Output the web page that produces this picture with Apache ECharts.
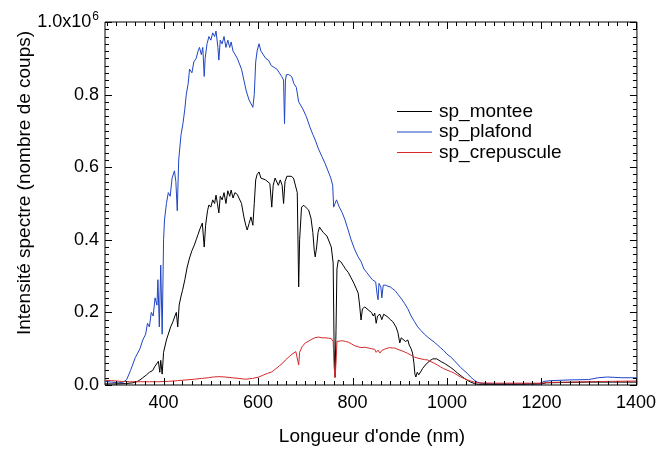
<!DOCTYPE html>
<html>
<head>
<meta charset="utf-8">
<script src="https://cdn.jsdelivr.net/npm/echarts@6/dist/echarts.min.js"></script>
<style>
html,body{margin:0;padding:0;background:#fff;}
#c{width:659px;height:450px;}
</style>
</head>
<body>
<div id="c"></div>
<script>
// ---- Data (intensity in units of 10^6 counts, wavelength in nm) ----
const seriesNames = ['sp_montee', 'sp_plafond', 'sp_crepuscule'];
const xTickValues = [400, 600, 800, 1000, 1200, 1400];
const yTickValues = [0, 0.2, 0.4, 0.6, 0.8, 1.0];
const yTickLabels = ['0.0', '0.2', '0.4', '0.6', '0.8', '1.0x10'];

const plafondNm = [276,290,305,315,322,330,340,350,356,362,366,370,374,378,382,386,388,391,394,397,400,402,406,410,414,418,423,426,429,432,437,441,445,448,452,455,460,464,469,473,476,480,483,486,488,492,496,500,504,508,511,515,517,520,524,528,532,536,540,543,547,551,556,560,565,570,575,581,585,589,592,595,598,602,606,610,616,622,628,634,640,645,650,654,656,658,660,665,671,676,681,686,690,695,702,710,716,721,728,735,742,748,754,758,760,763,766,772,778,784,790,797,804,811,818,824,830,836,842,849,852,854,856,860,862,865,870,875,880,885,890,896,902,910,917,924,931,938,945,952,959,966,973,980,986,993,1000,1008,1015,1022,1029,1036,1043,1050,1057,1064,1075,1100,1150,1195,1205,1220,1260,1300,1320,1340,1370,1402];
const plafondVal = [0.010,0.008,0.006,0.008,0.015,0.040,0.075,0.100,0.124,0.140,0.170,0.160,0.200,0.190,0.240,0.220,0.290,0.160,0.330,0.140,0.400,0.455,0.500,0.530,0.520,0.570,0.590,0.560,0.480,0.620,0.690,0.720,0.760,0.800,0.830,0.870,0.860,0.890,0.900,0.920,0.930,0.910,0.930,0.850,0.900,0.940,0.960,0.950,0.970,0.960,0.975,0.930,0.895,0.950,0.940,0.960,0.930,0.950,0.930,0.945,0.920,0.925,0.900,0.905,0.870,0.840,0.810,0.785,0.780,0.765,0.800,0.890,0.920,0.940,0.920,0.915,0.900,0.895,0.880,0.875,0.870,0.860,0.850,0.840,0.720,0.840,0.855,0.855,0.850,0.830,0.820,0.780,0.780,0.760,0.740,0.710,0.690,0.675,0.650,0.630,0.610,0.590,0.570,0.550,0.490,0.500,0.510,0.490,0.475,0.455,0.430,0.400,0.375,0.355,0.340,0.320,0.310,0.300,0.290,0.284,0.250,0.235,0.280,0.270,0.240,0.275,0.275,0.272,0.270,0.265,0.260,0.250,0.240,0.225,0.210,0.190,0.175,0.160,0.150,0.140,0.132,0.125,0.118,0.110,0.103,0.095,0.085,0.077,0.068,0.058,0.048,0.040,0.032,0.022,0.014,0.008,0.004,0.003,0.003,0.003,0.010,0.012,0.014,0.015,0.020,0.022,0.020,0.020];

const monteeNm = [276,300,320,335,345,350,356,364,370,377,381,385,389,392,394,397,400,406,410,415,420,424,427,430,433,437,440,445,450,455,460,465,469,473,477,482,486,489,493,496,500,504,508,511,514,517,520,524,528,532,536,540,543,547,551,556,560,565,570,574,577,581,585,589,592,595,598,602,606,610,616,620,625,629,632,636,639,643,647,651,654,657,661,665,670,675,679,683,686,688,692,697,702,707,712,716,719,721,724,727,730,734,738,742,746,750,755,759,761,763,765,767,770,775,780,785,791,797,803,808,812,815,818,821,826,830,835,840,844,847,850,853,858,862,866,870,875,880,885,889,892,896,900,903,907,912,917,920,924,927,930,932,934,937,940,944,948,952,956,960,965,970,973,978,983,988,994,1000,1008,1015,1022,1030,1037,1043,1050,1058,1065,1100,1150,1200,1210,1250,1300,1350,1402];
const monteeVal = [0.003,0.003,0.004,0.006,0.010,0.014,0.020,0.028,0.035,0.040,0.050,0.050,0.065,0.035,0.068,0.030,0.090,0.124,0.140,0.160,0.175,0.190,0.200,0.160,0.220,0.245,0.260,0.290,0.325,0.350,0.370,0.385,0.400,0.415,0.430,0.446,0.380,0.440,0.480,0.496,0.490,0.510,0.500,0.523,0.500,0.474,0.520,0.510,0.530,0.500,0.535,0.520,0.537,0.515,0.530,0.525,0.529,0.500,0.463,0.440,0.427,0.445,0.463,0.440,0.500,0.565,0.580,0.587,0.570,0.575,0.565,0.570,0.555,0.490,0.550,0.570,0.570,0.550,0.565,0.550,0.500,0.560,0.575,0.578,0.575,0.570,0.565,0.530,0.270,0.400,0.490,0.495,0.488,0.482,0.460,0.420,0.370,0.353,0.380,0.420,0.435,0.432,0.420,0.415,0.410,0.405,0.380,0.336,0.100,0.022,0.150,0.320,0.344,0.340,0.330,0.320,0.310,0.295,0.280,0.265,0.253,0.220,0.179,0.210,0.215,0.210,0.205,0.200,0.190,0.198,0.170,0.190,0.195,0.180,0.195,0.190,0.187,0.180,0.175,0.170,0.160,0.145,0.116,0.130,0.125,0.120,0.124,0.110,0.100,0.088,0.060,0.030,0.022,0.035,0.028,0.036,0.045,0.050,0.058,0.062,0.068,0.072,0.074,0.072,0.068,0.064,0.060,0.055,0.048,0.041,0.033,0.025,0.018,0.013,0.008,0.004,0.002,0.002,0.002,0.003,0.006,0.007,0.008,0.008,0.008];

const crepNm = [276,290,310,330,350,370,390,410,430,448,465,480,495,505,517,530,545,560,574,588,602,612,620,629,638,645,652,658,666,672,680,684,686,688,693,700,706,712,720,728,735,742,749,755,759,761,763,765,767,770,778,785,791,798,805,812,820,826,833,840,847,850,854,858,862,870,878,884,889,896,903,910,917,924,931,938,945,952,959,966,973,980,986,993,1000,1008,1015,1022,1029,1036,1043,1050,1058,1065,1100,1150,1200,1210,1260,1300,1350,1402];
const crepVal = [0.013,0.012,0.010,0.009,0.009,0.009,0.009,0.010,0.012,0.014,0.016,0.018,0.020,0.022,0.023,0.022,0.020,0.018,0.016,0.018,0.022,0.028,0.032,0.036,0.045,0.053,0.060,0.069,0.078,0.085,0.092,0.095,0.055,0.090,0.105,0.116,0.120,0.125,0.130,0.132,0.130,0.130,0.129,0.128,0.120,0.050,0.020,0.060,0.120,0.124,0.122,0.120,0.118,0.113,0.108,0.105,0.103,0.104,0.102,0.100,0.098,0.090,0.096,0.088,0.095,0.100,0.103,0.102,0.102,0.098,0.095,0.091,0.087,0.082,0.077,0.074,0.072,0.070,0.069,0.064,0.060,0.055,0.050,0.045,0.041,0.037,0.033,0.027,0.022,0.018,0.014,0.011,0.008,0.006,0.005,0.005,0.005,0.007,0.008,0.009,0.010,0.011];

const seriesColors = ['#000000', '#1f45c4', '#d42a2a'];

// ---- Build chart ----
const XMIN = 276, XMAX = 1402, YMIN = 0, YMAX = 1;
function zip(a, b) { return a.map(function (v, i) { return [v, b[i]]; }); }
const FONT = '"Liberation Sans", Arial, Helvetica, sans-serif';

// tick specs for the frame (kind: 0 x-major, 1 x-minor, 2 y-major, 3 y-minor)
const tickData = [];
for (let v = 280; v <= 1400; v += 20) tickData.push([v, YMIN, (v % 200 === 0) ? 0 : 1]);
for (let i = 0; i <= 50; i++) tickData.push([XMIN, i / 50, (i % 10 === 0) ? 2 : 3]);

function renderTick(params, api) {
  const kind = api.value(2);
  const len = (kind === 0 || kind === 2) ? 7 : 4;
  const st = { stroke: '#000', lineWidth: 1 };
  if (kind < 2) {
    const x = api.value(0);
    const b = api.coord([x, YMIN]), t = api.coord([x, YMAX]);
    const px = Math.round(b[0]) + 0.5;
    return { type: 'group', children: [
      { type: 'line', shape: { x1: px, y1: b[1], x2: px, y2: b[1] - len }, style: st },
      { type: 'line', shape: { x1: px, y1: t[1], x2: px, y2: t[1] + len }, style: st }
    ] };
  } else {
    const y = api.value(1);
    const l = api.coord([XMIN, y]), r = api.coord([XMAX, y]);
    const py = Math.round(l[1]) + 0.5;
    return { type: 'group', children: [
      { type: 'line', shape: { x1: l[0], y1: py, x2: l[0] + len, y2: py }, style: st },
      { type: 'line', shape: { x1: r[0], y1: py, x2: r[0] - len, y2: py }, style: st }
    ] };
  }
}

const chart = echarts.init(document.getElementById('c'));
chart.setOption({
  animation: false,
  backgroundColor: '#fff',
  grid: { left: 105, right: 18, top: 22, bottom: 65, show: true, borderColor: '#000', borderWidth: 1, backgroundColor: 'transparent' },
  xAxis: {
    type: 'value', min: XMIN, max: XMAX,
    axisLine: { show: false }, axisTick: { show: false }, splitLine: { show: false },
    axisLabel: { show: true, margin: 9, customValues: xTickValues, formatter: function (v) { return String(Math.round(v)); }, fontFamily: FONT, fontSize: 18, color: '#000' }
  },
  yAxis: {
    type: 'value', min: YMIN, max: YMAX,
    axisLine: { show: false }, axisTick: { show: false }, splitLine: { show: false },
    axisLabel: {
      show: true, margin: 6, customValues: yTickValues,
      formatter: function (v) {
        let i = -1;
        for (let k = 0; k < yTickValues.length; k++) if (Math.abs(yTickValues[k] - v) < 1e-9) i = k;
        if (i === yTickValues.length - 1) return '{a|' + yTickLabels[i] + '}{s|6}';
        return '{a|' + (i >= 0 ? yTickLabels[i] : '') + '}';
      },
      rich: {
        a: { fontFamily: FONT, fontSize: 18, color: '#000' },
        s: { fontFamily: FONT, fontSize: 12, color: '#000', verticalAlign: 'top', padding: [0, 0, 10, 1] }
      }
    }
  },
  legend: {
    orient: 'vertical', left: 392, top: 97, itemWidth: 35, itemHeight: 1.2, itemGap: 1.5, icon: 'rect',
    data: seriesNames,
    textStyle: { fontFamily: FONT, fontSize: 19, color: '#000', padding: [0, 0, 0, 2] }
  },
  graphic: [
    { type: 'text', x: 372, y: 437, style: { text: "Longueur d'onde (nm)", font: '19px "Liberation Sans", Arial, sans-serif', fill: '#000', textAlign: 'center', textVerticalAlign: 'middle' } },
    { type: 'text', x: 25, y: 183, rotation: Math.PI / 2, style: { text: 'Intensité spectre (nombre de coups)', font: '19px "Liberation Sans", Arial, sans-serif', fill: '#000', textAlign: 'center', textVerticalAlign: 'middle' } }
  ],
  series: [
    { name: seriesNames[1], type: 'line', data: zip(plafondNm, plafondVal), showSymbol: false, symbol: 'none', lineStyle: { color: seriesColors[1], width: 1 }, itemStyle: { color: seriesColors[1] } },
    { name: seriesNames[0], type: 'line', data: zip(monteeNm, monteeVal), showSymbol: false, symbol: 'none', lineStyle: { color: seriesColors[0], width: 1 }, itemStyle: { color: seriesColors[0] } },
    { name: seriesNames[2], type: 'line', data: zip(crepNm, crepVal), showSymbol: false, symbol: 'none', lineStyle: { color: seriesColors[2], width: 1 }, itemStyle: { color: seriesColors[2] } },
    { name: 'frameTicks', type: 'custom', data: tickData, encode: { x: 0, y: 1 }, renderItem: renderTick, silent: true, clip: false, z: 5, tooltip: { show: false } }
  ]
});
</script>
</body>
</html>
